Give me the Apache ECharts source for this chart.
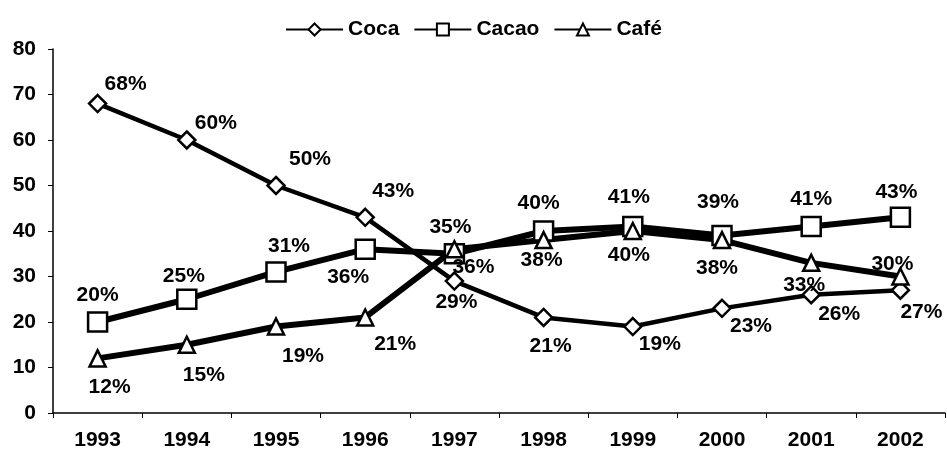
<!DOCTYPE html>
<html>
<head>
<meta charset="utf-8">
<script src="https://cdn.jsdelivr.net/npm/echarts@6/dist/echarts.min.js"></script>
<style>
  html, body { margin: 0; padding: 0; background: #fff; }
  #chart { width: 947px; height: 457px; }
</style>
</head>
<body>
<div id="chart"></div>
<script>
// data
const years = ["1993", "1994", "1995", "1996", "1997", "1998", "1999", "2000", "2001", "2002"];
const coca = [68, 60, 50, 43, 29, 21, 19, 23, 26, 27];
const cacao = [20, 25, 31, 36, 35, 40, 41, 39, 41, 43];
const cafe = [12, 15, 19, 21, 36, 38, 40, 38, 33, 30];
const yTicks = [0, 10, 20, 30, 40, 50, 60, 70, 80];

// label offsets (px) from each point, layout only
const cocaOffsets = [[28, -19], [29, -17], [34, -26], [28, -26], [2, 21], [7, 29], [27, 18], [29, 18], [28, 20], [21, 22]];
const cacaoOffsets = [[0, -27], [-3, -23], [13, -26], [-17, 28], [-4, -27], [-5, -28], [-4, -29], [-4, -33], [0, -27], [-4, -25]];
const cafeOffsets = [[12, 29], [17, 30], [27, 30], [30, 27], [19, 18], [-2, 20], [-4, 24], [-5, 28], [-7, 22], [-8, -12]];

const FONT = "Liberation Sans";
const FS = 21;

const chart = echarts.init(document.getElementById("chart"));

const makeSeries = (name, values, offsets, symbol, size, width) => ({
  name: name,
  type: "line",
  data: values.map((v, i) => ({
    value: v,
    label: { offset: offsets[i] },
  })),
  symbol: symbol,
  symbolSize: size,
  showAllSymbol: true,
  lineStyle: { color: "#000", width: width },
  itemStyle: { color: "#fff", borderColor: "#000", borderWidth: 2.5 },
  label: {
    show: true,
    position: "inside",
    formatter: "{c}%",
    color: "#000",
    fontFamily: FONT,
    fontWeight: "bold",
    fontSize: FS,
  },
  emphasis: { disabled: true },
  z: 3,
});

const option = {
  animation: false,
  backgroundColor: "#fff",
  legend: {
    top: 14,
    left: "center",
    itemWidth: 57,
    itemHeight: 15,
    itemGap: 14,
    textStyle: { fontFamily: FONT, fontWeight: "bold", fontSize: FS, color: "#000" },
    data: ["Coca", "Cacao", "Café"],
  },
  grid: { left: 53, right: 2, top: 49, bottom: 44 },
  xAxis: {
    type: "category",
    data: years,
    boundaryGap: true,
    axisLine: { lineStyle: { color: "#000", width: 1.5 } },
    axisTick: { show: true, length: 5, lineStyle: { color: "#000" } },
    axisLabel: { margin: 17, color: "#000", fontFamily: FONT, fontWeight: "bold", fontSize: FS },
  },
  yAxis: {
    type: "value",
    min: yTicks[0],
    max: yTicks[yTicks.length - 1],
    interval: 10,
    splitLine: { show: false },
    axisLine: { show: true, lineStyle: { color: "#000", width: 1.5 } },
    axisTick: { show: true, length: 5, lineStyle: { color: "#000" } },
    axisLabel: { margin: 17, color: "#000", fontFamily: FONT, fontWeight: "bold", fontSize: FS },
  },
  series: [
    makeSeries("Coca", coca, cocaOffsets, "diamond", 17, 4.5),
    makeSeries("Cacao", cacao, cacaoOffsets, "rect", 19, 6),
    makeSeries("Café", cafe, cafeOffsets, "triangle", 16, 6),
  ],
};

chart.setOption(option);
</script>
</body>
</html>
